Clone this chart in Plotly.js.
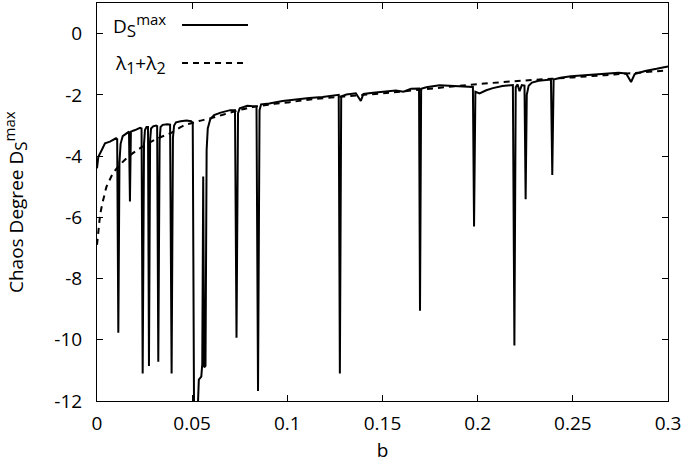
<!DOCTYPE html>
<html>
<head>
<meta charset="utf-8">
<script src="https://cdn.plot.ly/plotly-3.0.1.min.js"></script>
<style>html,body{margin:0;padding:0;background:#fff;}#chart{width:685px;height:469px;}</style>
</head>
<body>
<div id="chart"></div>
<script>
// Solid curve: chaos degree D_S^max versus b
const bDs = [
 0, 0.0007, 0.0025, 0.0042, 0.0068, 0.0086, 0.0100, 0.0106, 0.0112, 0.0118, 0.0124, 0.0135, 0.0150, 0.0165,
 0.0168, 0.0173, 0.0178, 0.0200, 0.0226, 0.0234, 0.0240, 0.0247, 0.0252, 0.0260, 0.0268, 0.0273, 0.0279, 0.0284,
 0.0295, 0.0310, 0.0316, 0.0322, 0.0329, 0.0334, 0.0345, 0.0370, 0.0384, 0.0392, 0.0399, 0.0405, 0.0415, 0.0440,
 0.0470, 0.0495, 0.0503, 0.0510, 0.0528, 0.0535, 0.0548, 0.0553, 0.0558, 0.0563, 0.0570, 0.0576, 0.0582, 0.0595,
 0.0615, 0.0650, 0.0700, 0.0725, 0.0733, 0.0741, 0.0750, 0.0790, 0.0838, 0.0846, 0.0854, 0.0862, 0.0905, 0.0975,
 0.1045, 0.1115, 0.1185, 0.1240, 0.1270, 0.1276, 0.1283, 0.1310, 0.1360, 0.1386, 0.1400, 0.1450, 0.1520, 0.1570,
 0.1610, 0.1650, 0.1692, 0.1697, 0.1703, 0.1730, 0.1800, 0.1890, 0.1975, 0.1981, 0.1988, 0.2010, 0.2045, 0.2080,
 0.2130, 0.2185, 0.2193, 0.2200, 0.2210, 0.2220, 0.2232, 0.2246, 0.2252, 0.2258, 0.2268, 0.2285, 0.2320, 0.2385,
 0.2392, 0.2399, 0.2435, 0.2490, 0.2560, 0.2650, 0.2740, 0.2780, 0.2806, 0.2825, 0.2880, 0.2940, 0.3000
];
const dsMax = [
 -4.4, -4.02, -3.8, -3.58, -3.53, -3.47, -3.42, -3.45, -9.77, -4.2, -3.6, -3.35, -3.28, -3.22,
 -3.2, -5.48, -3.2, -3.15, -3.08, -3.1, -11.1, -3.6, -3.15, -3.05, -3.05, -10.86, -3.5, -3.1,
 -3.03, -3.0, -3.02, -10.72, -3.5, -3.05, -2.98, -2.96, -2.97, -11.1, -3.4, -3.0, -2.9, -2.86,
 -2.84, -2.86, -2.92, -12.5, -12.5, -11.3, -11.2, -10.8, -4.67, -10.9, -10.85, -3.8, -3.1, -2.8,
 -2.66, -2.58, -2.5, -2.5, -9.93, -2.6, -2.44, -2.36, -2.38, -11.67, -2.5, -2.31, -2.28, -2.2,
 -2.14, -2.1, -2.07, -2.03, -2.0, -11.1, -2.05, -1.99, -1.95, -2.2, -1.97, -1.93, -1.88, -1.86,
 -1.9, -1.8, -1.79, -9.05, -1.8, -1.75, -1.69, -1.72, -1.74, -6.3, -1.9, -1.95, -1.85, -1.78,
 -1.71, -1.68, -10.19, -1.75, -1.66, -1.88, -1.68, -1.7, -5.41, -2.0, -1.7, -1.6, -1.54, -1.5,
 -4.62, -1.5, -1.44, -1.39, -1.36, -1.3, -1.28, -1.3, -1.58, -1.32, -1.22, -1.15, -1.07
];

// Dashed curve: lambda1 + lambda2 versus b
const bLam = [0, 0.0005, 0.001, 0.0015, 0.002, 0.003, 0.004, 0.005, 0.0065, 0.0085, 0.012, 0.0165, 0.0235,
 0.032, 0.039, 0.045, 0.052, 0.06, 0.07, 0.08, 0.09, 0.1, 0.112, 0.13, 0.15, 0.175, 0.2, 0.225, 0.25, 0.275, 0.3];
const lamSum = [-6.9, -6.6, -6.3, -6.0, -5.8, -5.5, -5.25, -5.0, -4.8, -4.56, -4.29, -4.02, -3.71,
 -3.42, -3.24, -3.02, -2.88, -2.76, -2.58, -2.42, -2.32, -2.25, -2.15, -2.05, -1.95, -1.8, -1.65, -1.53, -1.43, -1.32, -1.2];

const xTickVals = [0, 0.05, 0.1, 0.15, 0.2, 0.25, 0.3];
const xTickText = ['0', '0.05', '0.1', '0.15', '0.2', '0.25', '0.3'];
const yTickVals = [0, -2, -4, -6, -8, -10, -12];
const yTickText = ['0', '-2', '-4', '-6', '-8', '-10', '-12'];

const dsLabel = 'D<sub><span style="font-size:17px">S</span></sub><sup><span style="font-size:15px">max</span></sup>';
const seriesNames = [dsLabel, 'λ<sub><span style="font-size:16px">1</span></sub>+λ<sub><span style="font-size:16px">2</span></sub>'];
const xTitle = 'b';
const yTitle = 'Chaos Degree ' + dsLabel;

const FONT = 'Open Sans, sans-serif';
const FS = 19;

const traces = [
  {x: bDs, y: dsMax, type: 'scatter', mode: 'lines', name: seriesNames[0],
   line: {color: '#000', width: 2}},
  {x: bLam, y: lamSum, type: 'scatter', mode: 'lines', name: seriesNames[1],
   line: {color: '#000', width: 2, dash: '6px,5px', shape: 'spline'}}
];

const axisCommon = {
  showgrid: false, zeroline: false, showline: true, linecolor: '#000', linewidth: 1,
  mirror: 'ticks', ticks: 'inside', ticklen: 6, tickwidth: 1, tickcolor: '#000',
  tickfont: {family: FONT, size: FS, color: '#000'}
};

const layout = {
  width: 685, height: 469,
  margin: {l: 97, r: 17, t: 3, b: 68, pad: 0},
  paper_bgcolor: '#fff', plot_bgcolor: '#fff',
  font: {family: FONT, size: FS, color: '#000'},
  showlegend: false,
  xaxis: Object.assign({}, axisCommon, {
    range: [0, 0.3], tickmode: 'array', tickvals: xTickVals, ticktext: xTickText,
    ticklabelstandoff: 5,
    title: {text: xTitle, font: {family: FONT, size: FS, color: '#000'}, standoff: 8}
  }),
  yaxis: Object.assign({}, axisCommon, {
    range: [-12, 1], tickmode: 'array', tickvals: yTickVals, ticktext: yTickText,
    ticklabelstandoff: 10
  }),
  annotations: [
    {xref: 'paper', yref: 'paper', x: (15 - 97) / 571, y: 0.5, text: yTitle, textangle: -90,
     showarrow: false, xanchor: 'center', yanchor: 'middle', font: {family: FONT, size: FS, color: '#000'}},
    {xref: 'paper', yref: 'paper', x: (168 - 97) / 571, y: (401 - 25) / 398, text: seriesNames[0],
     showarrow: false, xanchor: 'right', yanchor: 'middle', font: {family: FONT, size: FS, color: '#000'}},
    {xref: 'paper', yref: 'paper', x: (168 - 97) / 571, y: (401 - 64) / 398, text: seriesNames[1],
     showarrow: false, xanchor: 'right', yanchor: 'middle', font: {family: FONT, size: FS, color: '#000'}}
  ],
  shapes: [
    {type: 'line', xref: 'paper', yref: 'paper', x0: (182 - 97) / 571, x1: (248 - 97) / 571,
     y0: (401 - 25) / 398, y1: (401 - 25) / 398, line: {color: '#000', width: 2}},
    {type: 'line', xref: 'paper', yref: 'paper', x0: (182 - 97) / 571, x1: (248 - 97) / 571,
     y0: (401 - 63) / 398, y1: (401 - 63) / 398, line: {color: '#000', width: 2, dash: '6px,5px'}}
  ]
};

Plotly.newPlot('chart', traces, layout, {staticPlot: true, displayModeBar: false});
</script>
</body>
</html>
